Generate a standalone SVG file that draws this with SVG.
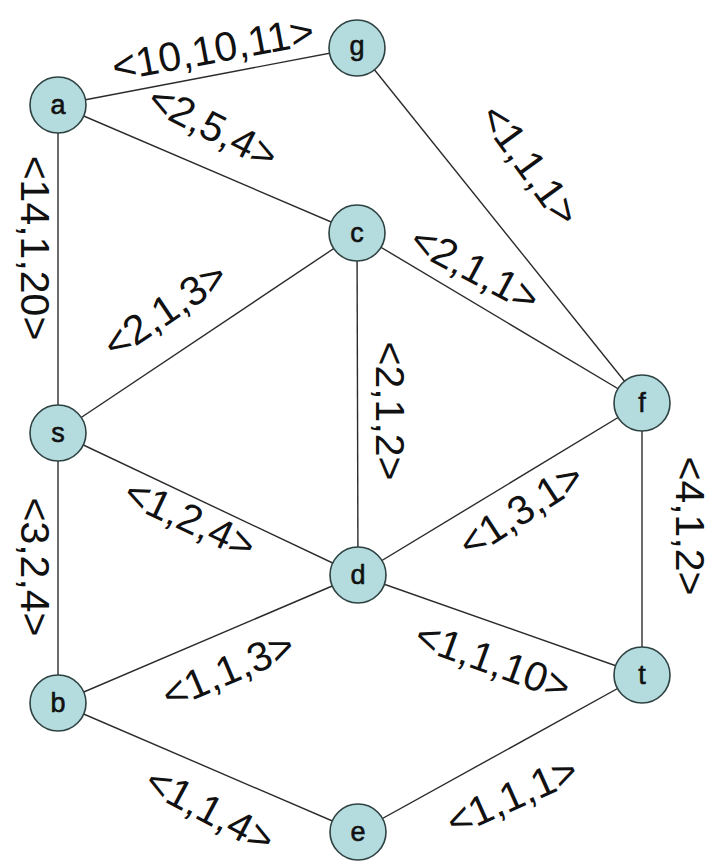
<svg xmlns="http://www.w3.org/2000/svg" width="717" height="866" viewBox="0 0 717 866">
<style>
.edge{stroke:#2b2b2b;stroke-width:1.4;fill:none}
.node circle{fill:#b4dcdf;stroke:#2f4242;stroke-width:1.6}
.node text{font-family:"Liberation Sans",Arial,sans-serif;font-size:27px;fill:#111;stroke:#111;stroke-width:0.6;text-anchor:middle}
.lbl{font-family:"Liberation Sans",Arial,sans-serif;font-size:41px;fill:#111;text-anchor:middle}
</style>
<rect width="717" height="866" fill="#fff"/>
<g id="connectors">
<line class="edge" x1="58" y1="105" x2="357" y2="48"/>
<line class="edge" x1="58" y1="105" x2="357" y2="233"/>
<line class="edge" x1="58" y1="105" x2="58" y2="433"/>
<line class="edge" x1="58" y1="433" x2="357" y2="233"/>
<line class="edge" x1="357" y1="233" x2="358" y2="575"/>
<line class="edge" x1="357" y1="233" x2="642" y2="403"/>
<line class="edge" x1="357" y1="48" x2="642" y2="403"/>
<line class="edge" x1="58" y1="433" x2="358" y2="575"/>
<line class="edge" x1="58" y1="433" x2="58" y2="703"/>
<line class="edge" x1="358" y1="575" x2="642" y2="403"/>
<line class="edge" x1="358" y1="575" x2="58" y2="703"/>
<line class="edge" x1="358" y1="575" x2="642" y2="675"/>
<line class="edge" x1="642" y1="403" x2="642" y2="675"/>
<line class="edge" x1="58" y1="703" x2="358" y2="832"/>
<line class="edge" x1="358" y1="832" x2="642" y2="675"/>
</g>
<g id="labels">
<text class="lbl" transform="translate(213,49) rotate(-10.5)" y="14">&lt;10,10,11&gt;</text>
<text class="lbl" transform="translate(213,127) rotate(27)" y="14">&lt;2,5,4&gt;</text>
<text class="lbl" transform="translate(35,248) rotate(90)" y="14">&lt;14,1,20&gt;</text>
<text class="lbl" transform="translate(35,567) rotate(90)" y="14">&lt;3,2,4&gt;</text>
<text class="lbl" transform="translate(165,310) rotate(-34)" y="14">&lt;2,1,3&gt;</text>
<text class="lbl" transform="translate(190,519) rotate(25)" y="14">&lt;1,2,4&gt;</text>
<text class="lbl" transform="translate(390,411) rotate(90)" y="14">&lt;2,1,2&gt;</text>
<text class="lbl" transform="translate(475,269) rotate(28)" y="14">&lt;2,1,1&gt;</text>
<text class="lbl" transform="translate(530,165) rotate(54)" y="14">&lt;1,1,1&gt;</text>
<text class="lbl" transform="translate(521,510) rotate(-33)" y="14">&lt;1,3,1&gt;</text>
<text class="lbl" transform="translate(690,526) rotate(90)" y="14">&lt;4,1,2&gt;</text>
<text class="lbl" transform="translate(228,670) rotate(-23)" y="14">&lt;1,1,3&gt;</text>
<text class="lbl" transform="translate(493,661) rotate(20)" y="14">&lt;1,1,10&gt;</text>
<text class="lbl" transform="translate(210,810) rotate(28)" y="14">&lt;1,1,4&gt;</text>
<text class="lbl" transform="translate(512,796) rotate(-24)" y="14">&lt;1,1,1&gt;</text>
</g>
<g id="node-a" class="node"><circle cx="58" cy="105" r="28"/><text x="58" y="114">a</text></g>
<g id="node-g" class="node"><circle cx="357" cy="48" r="28"/><text x="357" y="55">g</text></g>
<g id="node-c" class="node"><circle cx="357" cy="233" r="28"/><text x="357" y="242">c</text></g>
<g id="node-s" class="node"><circle cx="58" cy="433" r="28"/><text x="58" y="442">s</text></g>
<g id="node-f" class="node"><circle cx="642" cy="403" r="28"/><text x="642" y="412">f</text></g>
<g id="node-d" class="node"><circle cx="358" cy="575" r="28"/><text x="358" y="584">d</text></g>
<g id="node-b" class="node"><circle cx="58" cy="703" r="28"/><text x="58" y="712">b</text></g>
<g id="node-e" class="node"><circle cx="358" cy="832" r="28"/><text x="358" y="841">e</text></g>
<g id="node-t" class="node"><circle cx="642" cy="675" r="28"/><text x="642" y="684">t</text></g>
</svg>
